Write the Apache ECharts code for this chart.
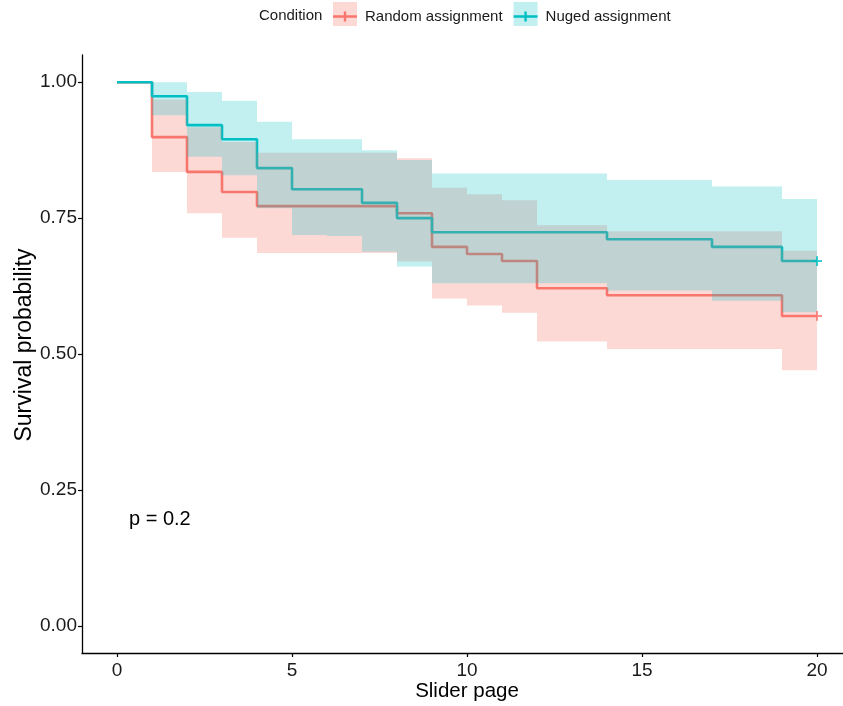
<!DOCTYPE html>
<html><head><meta charset="utf-8">
<script src="https://cdn.jsdelivr.net/npm/echarts@6/dist/echarts.min.js"></script>
<style>html,body{margin:0;padding:0;background:#fff;overflow:hidden}#c{width:843px;height:706px}</style>
</head><body><div id="c"></div>
<script>
// ---- data ----
const times = [0,1,2,3,4,5,6,7,8,9,10,11,12,13,14,15,16,17,18,19,20];
const groupNames = ['Random assignment', 'Nuged assignment'];
const randomSurv  = [1.000,0.899,0.835,0.798,0.772,0.772,0.772,0.772,0.759,0.697,0.684,0.671,0.621,0.621,0.608,0.608,0.608,0.608,0.608,0.570,0.570];
const randomUpper = [1.000,0.968,0.917,0.890,0.870,0.870,0.870,0.870,0.860,0.806,0.794,0.783,0.737,0.737,0.726,0.726,0.726,0.726,0.726,0.690,0.690];
const randomLower = [1.000,0.835,0.759,0.714,0.686,0.686,0.686,0.686,0.670,0.602,0.589,0.576,0.523,0.523,0.509,0.509,0.509,0.509,0.509,0.470,0.470];
const nudgedSurv  = [1.000,0.974,0.921,0.895,0.842,0.803,0.803,0.778,0.750,0.724,0.724,0.724,0.724,0.724,0.711,0.711,0.711,0.697,0.697,0.671,0.671];
const nudgedUpper = [1.000,1.000,0.982,0.966,0.927,0.895,0.895,0.875,0.857,0.832,0.832,0.832,0.832,0.832,0.820,0.820,0.820,0.808,0.808,0.785,0.785];
const nudgedLower = [1.000,0.939,0.863,0.829,0.768,0.719,0.717,0.688,0.661,0.630,0.630,0.630,0.630,0.630,0.617,0.617,0.617,0.598,0.598,0.577,0.577];
const censorTime = 20;
const xTicks = [0,5,10,15,20];
const yTicks = [0,0.25,0.5,0.75,1];
const pText = 'p = 0.2';

const RED = '#F8766D', TEAL = '#00BFC4';
const RED_BAND = 'rgba(248,118,109,0.28)', TEAL_BAND = 'rgba(0,191,196,0.24)';
const FONT = '"Liberation Sans", Arial, Helvetica, sans-serif';

const pairs = (ys) => times.map((t, i) => [t, ys[i]]);

// step-shaped confidence ribbon drawn as one polygon through the axis scales
function bandSeries(id, lower, upper, color) {
  return {
    name: id, type: 'custom', z: 3, silent: true, clip: true,
    data: times.map((t, i) => [t, lower[i], upper[i]]),
    encode: {x: 0, y: [1, 2]},
    renderItem: function (params, api) {
      if (params.dataIndex !== 0) return null;
      const n = times.length, top = [], bot = [];
      for (let i = 0; i < n - 1; i++) {
        top.push(api.coord([times[i], upper[i]]), api.coord([times[i + 1], upper[i]]));
        bot.push(api.coord([times[i], lower[i]]), api.coord([times[i + 1], lower[i]]));
      }
      const pts = top.concat(bot.reverse());
      return {type: 'polygon', shape: {points: pts}, style: {fill: color, stroke: null}};
    }
  };
}
const plusPath = 'path://M0,3.9 L10,3.9 L10,5.9 L0,5.9 Z M4,0 L6,0 L6,9.8 L4,9.8 Z';
const legendPlus = 'path://M0,3.8 L24,3.8 L24,6.2 L0,6.2 Z M10.8,0 L13.2,0 L13.2,10 L10.8,10 Z';

const chart = echarts.init(document.getElementById('c'), null, {renderer: 'canvas'});
chart.setOption({
  animation: false,
  backgroundColor: '#fff',
  textStyle: {fontFamily: FONT},
  grid: {left: 82, top: 55, width: 770, height: 598, containLabel: false, outerBoundsMode: 'none'},
  legend: [
    {left: 333, top: 2, padding: 0, itemWidth: 24, itemHeight: 24, itemGap: 11, selectedMode: false,
      data: [{name: groupNames[0], icon: 'rect', itemStyle: {color: RED_BAND}},
             {name: groupNames[1], icon: 'rect', itemStyle: {color: TEAL_BAND}}],
      textStyle: {fontSize: 15, color: 'rgba(0,0,0,0)', fontFamily: FONT, padding: [0,0,0,3]}},
    {left: 333, top: 9, padding: 0, itemWidth: 24, itemHeight: 10, itemGap: 11, selectedMode: false,
      data: [{name: groupNames[0], icon: legendPlus, itemStyle: {color: RED}},
             {name: groupNames[1], icon: legendPlus, itemStyle: {color: TEAL}}],
      textStyle: {fontSize: 15, color: '#1a1a1a', fontFamily: FONT, padding: [0,0,0,3]}}
  ],
  graphic: [
    {type: 'text', x: 259, y: 16, style: {text: 'Condition', fill: '#1a1a1a', font: '15px ' + FONT, verticalAlign: 'middle'}},
    {type: 'text', x: 129, y: 519, z: 10, style: {text: pText, fill: '#000', font: '20px ' + FONT, verticalAlign: 'middle'}}
  ],
  xAxis: {
    type: 'value', min: -1, max: 21,
    name: 'Slider page', nameLocation: 'middle', nameGap: 28, nameMoveOverlap: false,
    nameTextStyle: {fontSize: 20.5, color: '#000', fontFamily: FONT},
    axisLine: {onZero: false, lineStyle: {color: '#000', width: 1.3}},
    axisTick: {show: true, length: 4, customValues: xTicks, lineStyle: {color: '#000', width: 1.2}},
    axisLabel: {customValues: xTicks, fontSize: 19, color: '#1a1a1a', margin: 8, fontFamily: FONT},
    splitLine: {show: false}
  },
  yAxis: {
    type: 'value', min: -0.05, max: 1.05,
    name: 'Survival probability', nameLocation: 'middle', nameGap: 46, nameMoveOverlap: false,
    nameTextStyle: {fontSize: 23, color: '#000', fontFamily: FONT, padding: [0, 0, 0, 18]},
    axisLine: {show: true, onZero: false, lineStyle: {color: '#000', width: 1.3}},
    axisTick: {show: true, length: 4, customValues: yTicks, lineStyle: {color: '#000', width: 1.2}},
    axisLabel: {customValues: yTicks, fontSize: 19, color: '#1a1a1a', margin: 5, fontFamily: FONT,
      formatter: v => v.toFixed(2)},
    splitLine: {show: false}
  },
  series: [
    {name: groupNames[0], type: 'line', step: 'end', showSymbol: false, symbol: 'none', z: 2,
      color: RED, lineStyle: {color: RED, width: 2.6}, data: pairs(randomSurv)},
    {name: groupNames[1], type: 'line', step: 'end', showSymbol: false, symbol: 'none', z: 2,
      color: TEAL, lineStyle: {color: TEAL, width: 2.6}, data: pairs(nudgedSurv)},
    bandSeries('rand_band', randomLower, randomUpper, RED_BAND),
    bandSeries('nudg_band', nudgedLower, nudgedUpper, TEAL_BAND),
    {name: 'censor_r', type: 'scatter', symbol: plusPath, symbolSize: [10, 9.8], z: 4, silent: true,
      itemStyle: {color: RED}, data: [[censorTime, randomSurv[times.indexOf(censorTime)]]]},
    {name: 'censor_n', type: 'scatter', symbol: plusPath, symbolSize: [10, 9.8], z: 4, silent: true,
      itemStyle: {color: TEAL}, data: [[censorTime, nudgedSurv[times.indexOf(censorTime)]]]}
  ]
});
</script>
</body></html>
